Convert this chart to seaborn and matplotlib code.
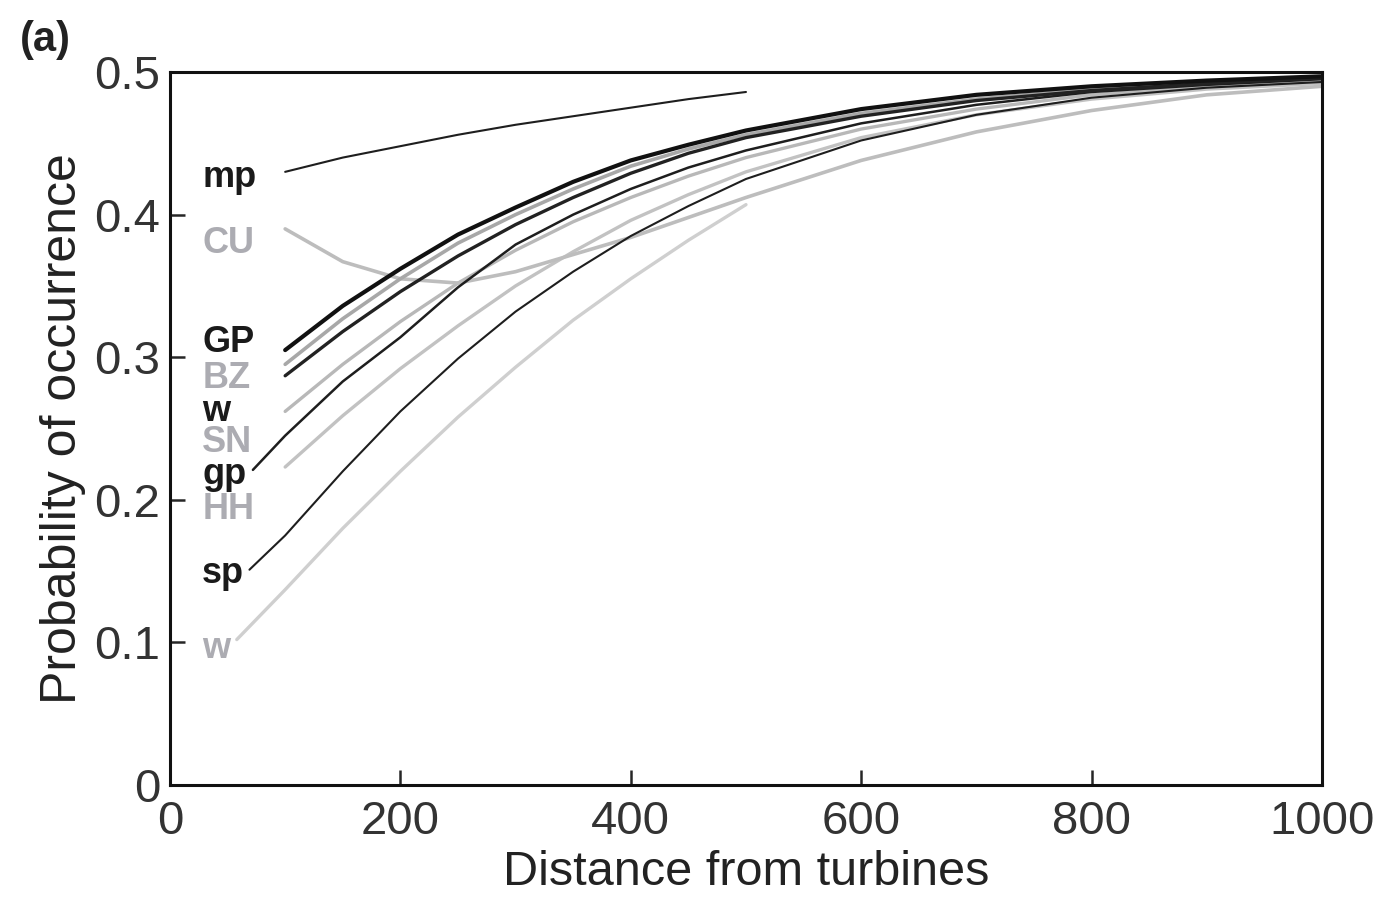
import numpy as np
import pandas as pd
import matplotlib
matplotlib.use("Agg")
import matplotlib.pyplot as plt
import seaborn as sns

# ---------------- data ----------------
X_LONG = [100, 150, 200, 250, 300, 350, 400, 450, 500, 600, 700, 800, 900, 1000]
X_SHORT = [100, 150, 200, 250, 300, 350, 400, 450, 500]

mp_y = [0.430, 0.440, 0.448, 0.456, 0.463, 0.469, 0.475, 0.481, 0.486]
CU_y = [0.390, 0.367, 0.355, 0.352, 0.360, 0.372, 0.384, 0.398, 0.412, 0.438, 0.458, 0.473, 0.484, 0.490]
GP_y = [0.305, 0.336, 0.362, 0.386, 0.405, 0.423, 0.438, 0.449, 0.459, 0.474, 0.484, 0.490, 0.494, 0.497]
BZ_y = [0.295, 0.327, 0.355, 0.380, 0.400, 0.418, 0.434, 0.446, 0.456, 0.471, 0.481, 0.488, 0.493, 0.496]
wb_y = [0.287, 0.318, 0.346, 0.371, 0.393, 0.412, 0.429, 0.443, 0.454, 0.469, 0.480, 0.487, 0.492, 0.496]
SN_y = [0.262, 0.295, 0.325, 0.352, 0.375, 0.395, 0.412, 0.427, 0.440, 0.460, 0.474, 0.484, 0.490, 0.494]
gp_x = [72] + X_LONG
gp_y = [0.221, 0.245, 0.283, 0.314, 0.349, 0.379, 0.400, 0.418, 0.433, 0.445, 0.464, 0.477, 0.486, 0.491, 0.495]
HH_y = [0.223, 0.259, 0.292, 0.322, 0.350, 0.374, 0.396, 0.414, 0.430, 0.454, 0.470, 0.481, 0.488, 0.492]
sp_x = [69] + X_LONG
sp_y = [0.151, 0.175, 0.220, 0.262, 0.299, 0.332, 0.360, 0.385, 0.406, 0.425, 0.452, 0.470, 0.482, 0.489, 0.493]
wg_x = [58] + X_SHORT
wg_y = [0.102, 0.137, 0.180, 0.220, 0.258, 0.293, 0.326, 0.355, 0.382, 0.407]

# curve labels drawn at the left
label_names = ["mp", "CU", "GP", "BZ", "w", "SN", "gp", "HH", "sp", "w"]
label_y = [0.426, 0.380, 0.310, 0.285, 0.262, 0.240, 0.218, 0.193, 0.148, 0.096]
label_dark = [True, False, True, False, True, False, True, False, True, False]

xticks = [0, 200, 400, 600, 800, 1000]
yticks = [0, 0.1, 0.2, 0.3, 0.4, 0.5]
ytick_labels = ["0", "0.1", "0.2", "0.3", "0.4", "0.5"]

# ---------------- style ----------------
sns.set_style("ticks")
plt.rcParams["font.family"] = ["Liberation Sans", "DejaVu Sans"]

fig = plt.figure(figsize=(13.92, 8.98), dpi=100)
ax = fig.add_axes([0.1221, 0.1258, 0.8276, 0.794])

series = [
    ("wg", wg_x, wg_y, "#cfcfcf", 2.4),
    ("HH", X_LONG, HH_y, "#c2c2c2", 2.4),
    ("SN", X_LONG, SN_y, "#b8b8b8", 2.4),
    ("CU", X_LONG, CU_y, "#bdbdbd", 2.6),
    ("BZ", X_LONG, BZ_y, "#a8a8a8", 2.6),
    ("sp", sp_x, sp_y, "#1e1e1e", 1.5),
    ("gp", gp_x, gp_y, "#1e1e1e", 1.8),
    ("wb", X_LONG, wb_y, "#222222", 2.4),
    ("GP", X_LONG, GP_y, "#111111", 3.0),
    ("mp", X_SHORT, mp_y, "#1e1e1e", 1.5),
]

for name, xs, ys, col, lw in series:
    df = pd.DataFrame({"x": xs, "y": ys})
    sns.lineplot(data=df, x="x", y="y", ax=ax, color=col, linewidth=lw,
                 estimator=None, sort=False, legend=False)

for name, yy, dark in zip(label_names, label_y, label_dark):
    ax.text(28, yy, name, fontsize=26, fontweight="bold",
            color="#1a1a1a" if dark else "#acacb2", va="center", ha="left")

ax.set_xlim(0, 1000)
ax.set_ylim(0, 0.5)
ax.set_xticks(xticks)
ax.set_yticks(yticks)
ax.set_yticklabels(ytick_labels)
ax.tick_params(axis="both", direction="in", length=11, width=1.8, labelsize=34,
               labelcolor="#333333")
ax.tick_params(axis="x", pad=11)
ax.tick_params(axis="y", pad=7)
for s in ax.spines.values():
    s.set_linewidth(2.2)
    s.set_color("#111111")
ax.set_xlabel("Distance from turbines", fontsize=35, color="#222222", labelpad=4)
ax.set_ylabel("Probability of occurrence", fontsize=36, color="#222222", labelpad=6)

fig.text(0.014, 0.955, "(a)", fontsize=30, fontweight="bold", color="#222222",
         va="center", ha="left")

fig.savefig("out.png", dpi=100)
